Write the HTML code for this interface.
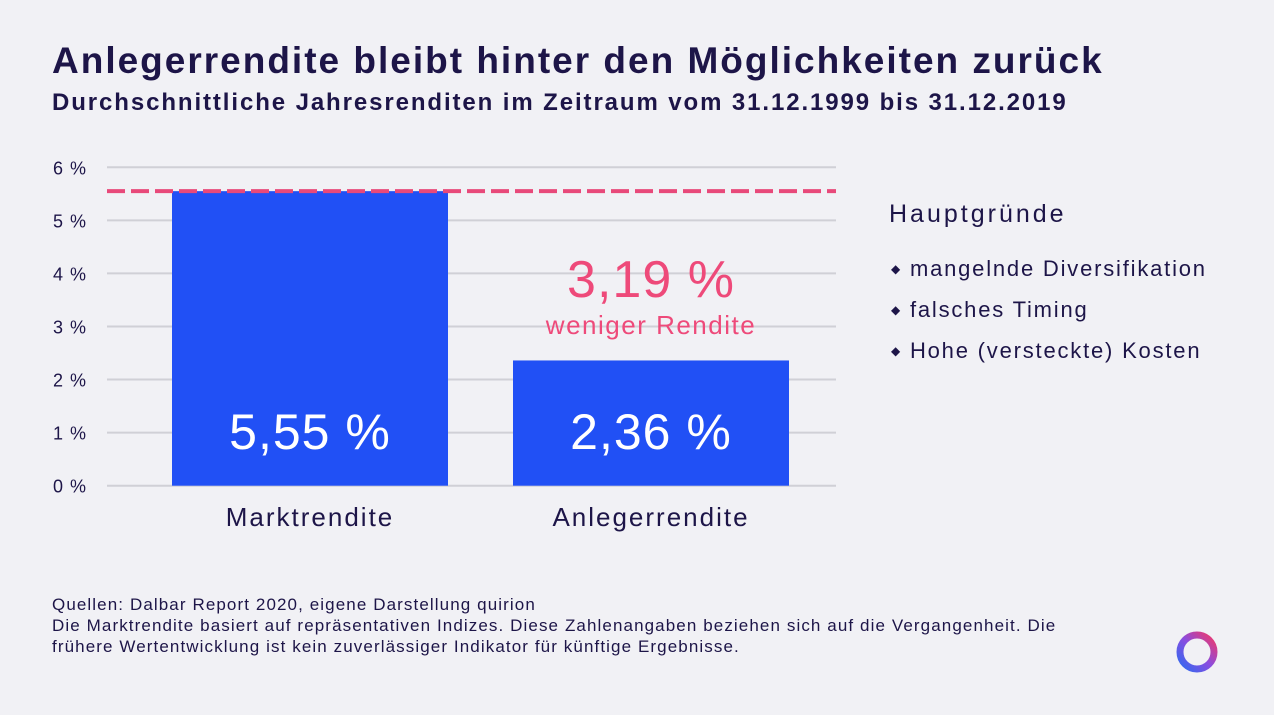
<!DOCTYPE html>
<html><head><meta charset="utf-8"><style>
body{margin:0;width:1274px;height:715px;background:#f1f1f5;font-family:"Liberation Sans",sans-serif;color:#1d1548;position:relative;overflow:hidden}
.t{position:absolute;white-space:nowrap}
</style></head><body>
<div class="t" style="left:52px;top:40px;font-size:37px;font-weight:bold;letter-spacing:2.0px">Anlegerrendite bleibt hinter den Möglichkeiten zurück</div>
<div class="t" style="left:52px;top:89px;font-size:24px;font-weight:bold;letter-spacing:1.9px">Durchschnittliche Jahresrenditen im Zeitraum vom 31.12.1999 bis 31.12.2019</div>
<svg width="1274" height="715" style="position:absolute;left:0;top:0">
<g id="grid"></g><g id="bars"></g><g id="over"></g>
</svg>
<div class="t" style="left:889px;top:200px;font-size:25px;letter-spacing:3px">Hauptgründe</div>
<div class="t" style="left:891px;top:256px;font-size:22px;letter-spacing:1.8px"><span style="font-size:12px;vertical-align:3px">◆</span> mangelnde Diversifikation</div>
<div class="t" style="left:891px;top:297px;font-size:22px;letter-spacing:1.8px"><span style="font-size:12px;vertical-align:3px">◆</span> falsches Timing</div>
<div class="t" style="left:891px;top:338px;font-size:22px;letter-spacing:1.8px"><span style="font-size:12px;vertical-align:3px">◆</span> Hohe (versteckte) Kosten</div>
<div class="t" style="left:52px;top:594px;font-size:17px;line-height:21px;letter-spacing:1.1px">Quellen: Dalbar Report 2020, eigene Darstellung quirion<br>Die Marktrendite basiert auf repräsentativen Indizes. Diese Zahlenangaben beziehen sich auf die Vergangenheit. Die<br>frühere Wertentwicklung ist kein zuverlässiger Indikator für künftige Ergebnisse.</div>
<svg width="50" height="50" style="position:absolute;left:1172px;top:627px">
<defs><linearGradient id="lg" x1="0" y1="1" x2="1" y2="0"><stop offset="0" stop-color="#2f6bf0"/><stop offset="0.5" stop-color="#8a4de0"/><stop offset="1" stop-color="#f0386a"/></linearGradient></defs>
<circle cx="25" cy="25" r="17" fill="none" stroke="url(#lg)" stroke-width="7"/></svg>
<script>
const categories=["Marktrendite","Anlegerrendite"];
const values=[5.55,2.36];
const valueLabels=["5,55 %","2,36 %"];
const ticks=[0,1,2,3,4,5,6];
const tickLabels=["0 %","1 %","2 %","3 %","4 %","5 %","6 %"];
const refValue=[5.55];
const diffLabel=["3,19 %"];
const NS="http://www.w3.org/2000/svg";
const y0=485.7,pxPer=53.07,gx0=107,gx1=836;
const y=v=>y0-v*pxPer;
const barX=i=>172+i*341,barW=276;
function mk(tag,a,p){const e=document.createElementNS(NS,tag);for(const k in a)e.setAttribute(k,a[k]);p.appendChild(e);return e;}
const G=document.getElementById('grid'),B=document.getElementById('bars'),O=document.getElementById('over');
ticks.forEach((t,i)=>{
 const l=mk('line',{x1:gx0,x2:gx1,y1:y(t),y2:y(t),stroke:'#d0d0d6','stroke-width':2},G);
 
 
 const tx=mk('text',{x:87,y:y(t)+7,'text-anchor':'end','font-size':18,'letter-spacing':1,fill:'#1d1548'},G);
 tx.textContent=tickLabels[i];
 
 
});
values.forEach((v,i)=>{
 const r=mk('rect',{x:barX(i),y:y(v),width:barW,height:y0-y(v),fill:'#2150f5'},B);
 
 
 const vt=mk('text',{x:barX(i)+barW/2,y:449,'text-anchor':'middle','font-size':50,'letter-spacing':1,fill:'#fff'},B);
 vt.textContent=valueLabels[i];
 
 
 const ct=mk('text',{x:barX(i)+barW/2,y:526,'text-anchor':'middle','font-size':26,'letter-spacing':2,fill:'#1d1548'},B);
 ct.textContent=categories[i];
 
 
});
const d=mk('line',{x1:gx0,x2:gx1,y1:y(refValue[0]),y2:y(refValue[0]),stroke:'#e8497a','stroke-width':4,'stroke-dasharray':'18,6'},O);


const dl=mk('text',{x:barX(1)+barW/2,y:297,'text-anchor':'middle','font-size':52,'letter-spacing':1,fill:'#ee4a7a'},O);
dl.textContent=diffLabel[0];


const ds=mk('text',{x:barX(1)+barW/2,y:334,'text-anchor':'middle','font-size':26,'letter-spacing':1.5,fill:'#ee4a7a'},O);
ds.textContent='weniger Rendite';


</script>
</body></html>
